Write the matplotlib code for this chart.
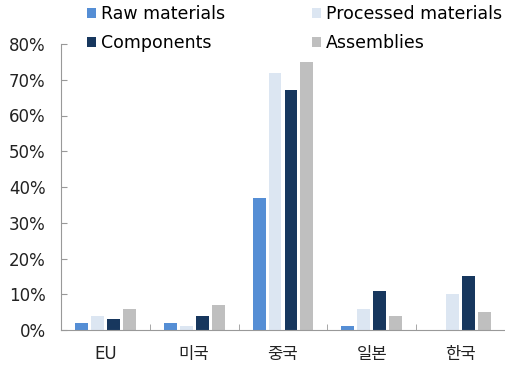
import matplotlib

matplotlib.use("Agg")
import matplotlib.pyplot as plt
import numpy as np
from matplotlib.ticker import FuncFormatter, MultipleLocator

plt.rcParams["font.family"] = ["DejaVu Sans", "Noto Sans CJK KR"]

regions = ["EU", "미국", "중국", "일본", "한국"]
series_names = ["Raw materials", "Processed materials", "Components", "Assemblies"]
raw = [2, 2, 37, 1, 0]
processed = [4, 1, 72, 6, 10]
components = [3, 4, 67, 11, 15]
assemblies = [6, 7, 75, 4, 5]
colors = ["#558ED5", "#DCE6F2", "#17375E", "#BFBFBF"]

fig = plt.figure(figsize=(5.06, 3.68), dpi=100)
ax = fig.add_axes([61 / 506, 1 - 330 / 368, 444 / 506, (330 - 44) / 368])

x = np.arange(len(regions))
stride = 0.18
width = 0.146
handles = []
for i, (vals, name, c) in enumerate(zip([raw, processed, components, assemblies], series_names, colors)):
    h = ax.bar(x + (i - 1.5) * stride, vals, width, color=c, label=name)
    handles.append(h)

ax.set_xlim(-0.5, len(regions) - 0.5)
ax.set_ylim(0, 80)
ax.yaxis.set_major_locator(MultipleLocator(10))
ax.yaxis.set_major_formatter(FuncFormatter(lambda v, _: f"{v:.0f}%"))

ax.set_xticks(x)
ax.set_xticklabels(regions)
ax.set_xticks(np.arange(len(regions)) + 0.5, minor=True)
ax.tick_params(axis="x", which="major", length=0, pad=11, labelsize=12, colors="#222222")
ax.tick_params(axis="x", which="minor", direction="in", length=4, color="#999999")
ax.tick_params(axis="y", direction="in", length=4, color="#999999", pad=11,
               labelsize=12, labelcolor="#222222")

for s in ["top", "right"]:
    ax.spines[s].set_visible(False)
ax.spines["left"].set_color("#999999")
ax.spines["bottom"].set_color("#999999")

# legend fills column by column, so order entries to read row by row
order = [0, 2, 1, 3]
fig.legend(handles=[handles[i] for i in order], labels=[series_names[i] for i in order],
           ncol=2, loc="upper left", bbox_to_anchor=(87 / 506, 1 - 5 / 368), frameon=False,
           fontsize=12.5, handlelength=0.5, handleheight=0.5, handletextpad=0.3,
           columnspacing=5.0, labelspacing=0.65, borderpad=0, borderaxespad=0)

fig.savefig("out.png", dpi=100, facecolor="white")
